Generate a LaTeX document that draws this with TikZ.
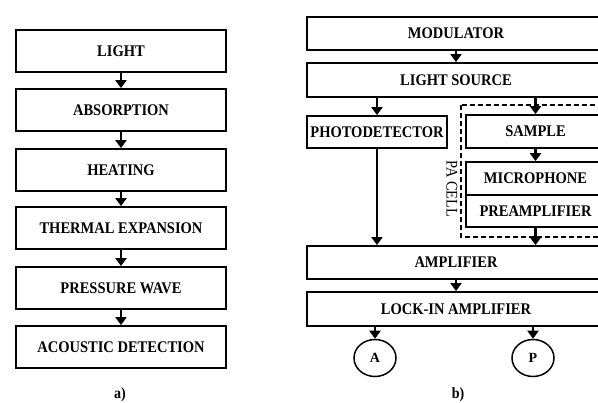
\documentclass[tikz,border=0pt]{standalone}
\usepackage{fontspec}
\usepackage{graphicx}
\setmainfont{Liberation Serif}
\usetikzlibrary{arrows.meta,shapes.geometric,calc}
\newcommand\TT[1]{\scalebox{1}[1.12]{#1}}
\tikzset{
  box/.style={draw, line width=1.8pt, rectangle, inner sep=0pt, align=center,
    font=\fontsize{14.5}{16}\selectfont\bfseries},
  flow/.style={line width=2.6pt, -{Triangle[width=11pt,length=8pt]}},
  circ/.style={draw, ellipse, line width=1.5pt, minimum width=42pt, minimum height=37pt,
    inner sep=0pt, font=\fontsize{14}{16}\selectfont\bfseries},
  lbl/.style={font=\fontsize{14}{16}\selectfont\bfseries},
}
\begin{document}
\begin{tikzpicture}[x=1pt,y=-1pt]
\useasboundingbox (0,0) rectangle (598,403);
% ---- panel a ----
\begin{scope}[every node/.append style={box, minimum width=210pt, minimum height=42pt}]
\node (l1) at (121,51)  {\TT{LIGHT}};
\node (l2) at (121,110) {\TT{ABSORPTION}};
\node (l3) at (121,170) {\TT{HEATING}};
\node (l4) at (121,228) {\TT{THERMAL EXPANSION}};
\node (l5) at (121,288) {\TT{PRESSURE WAVE}};
\node (l6) at (121,347) {\TT{ACOUSTIC DETECTION}};
\end{scope}
\foreach \a/\b in {l1/l2,l2/l3,l3/l4,l4/l5,l5/l6}
  \draw[flow] (\a.south) -- (\b.north);
\node[lbl] (la) at (120,395) {\TT{a)}};
% ---- panel b ----
\node[box, minimum width=298pt, minimum height=33pt] (mod) at (456,33.5) {\TT{MODULATOR}};
\node[box, minimum width=298pt, minimum height=34pt] (ls) at (456,80) {\TT{LIGHT SOURCE}};
\node[box, minimum width=140pt, minimum height=32pt] (pd) at (377,132) {\TT{PHOTODETECTOR}};
\draw[line width=1.4pt, dash pattern=on 5pt off 3pt] (461,105) rectangle (620,237);
\node[box, minimum width=139pt, minimum height=33pt] (sam) at (535.5,131.5) {\TT{SAMPLE}};
\node[box, minimum width=139pt, minimum height=33pt] (mic) at (535.5,178.5) {\TT{MICROPHONE}};
\node[box, minimum width=139pt, minimum height=32pt] (pre) at (535.5,211) {\TT{PREAMPLIFIER}};
\node[rotate=-90, font=\fontsize{14.5}{16}\selectfont] (pac) at (452,189) {\TT{PA CELL}};
\node[box, minimum width=298pt, minimum height=33pt] (amp) at (456,262.5) {\TT{AMPLIFIER}};
\node[box, minimum width=298pt, minimum height=34pt] (lock) at (456,309) {\TT{LOCK-IN AMPLIFIER}};
\node[circ] (A) at (375,358) {A};
\node[circ] (P) at (533,358) {P};
\node[lbl] (lb) at (458,395) {\TT{b)}};
\draw[flow] (mod.south) -- (ls.north);
\draw[flow] (ls.south -| pd.north) -- (pd.north);
\draw[flow] (ls.south -| sam.north) -- (sam.north);
\draw[flow] (sam.south) -- (mic.north);
\draw[flow] (pre.south) -- (amp.north -| pre.south);
\draw[flow] (pd.south) -- (amp.north -| pd.south);
\draw[flow] (amp.south) -- (lock.north);
\draw[flow] (lock.south -| A.north) -- (A.north);
\draw[flow] (lock.south -| P.north) -- (P.north);
\end{tikzpicture}
\end{document}
